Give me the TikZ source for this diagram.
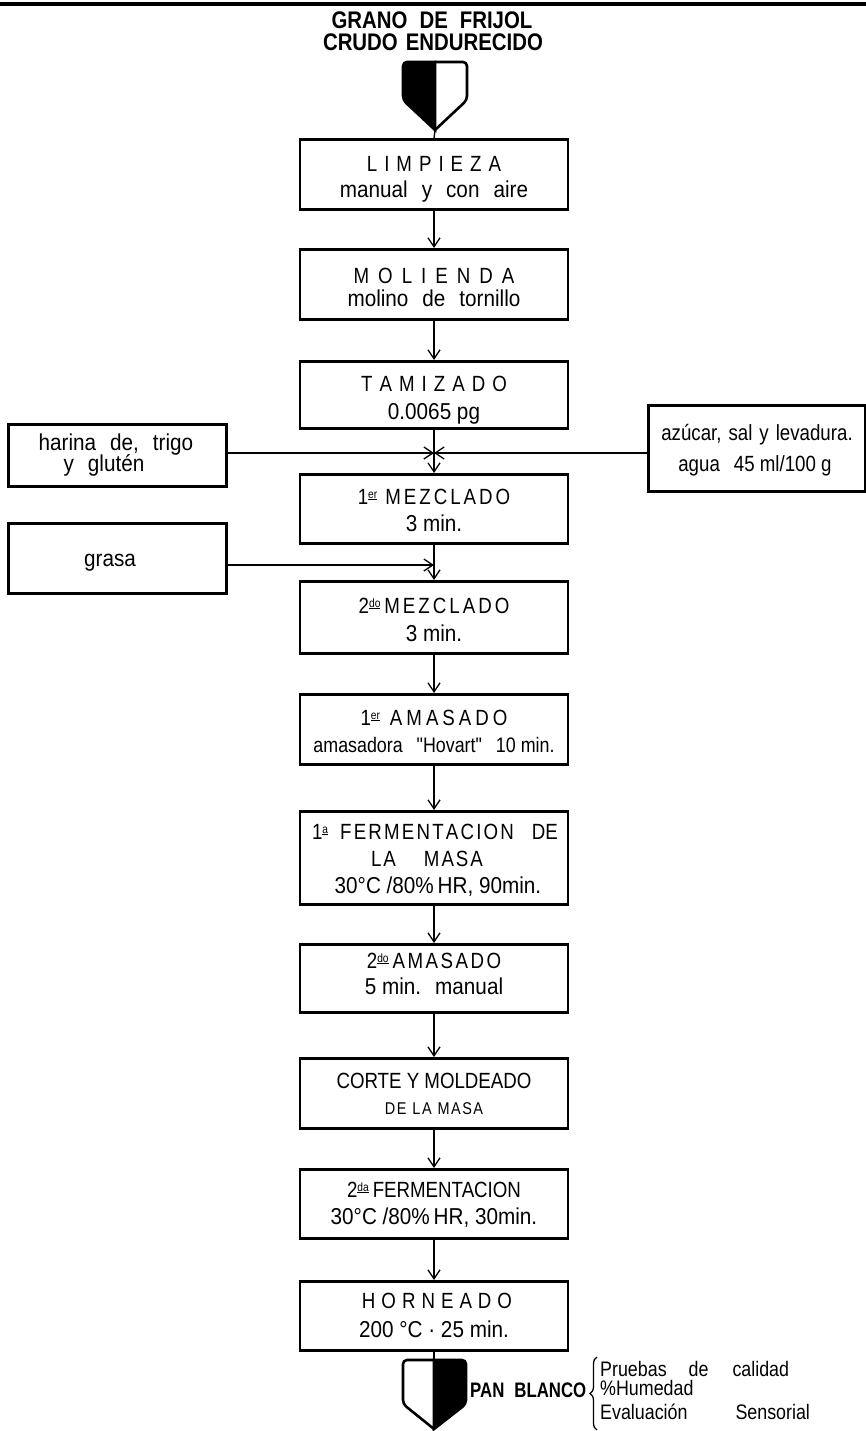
\documentclass[tikz,border=0pt]{standalone}
\usepackage{fontspec}
\setmainfont{Liberation Sans}
\newfontfamily\cf[FakeStretch=0.85]{Liberation Sans}
\newfontfamily\cfw[FakeStretch=0.9]{Liberation Sans}
\newfontfamily\cfn[FakeStretch=0.8]{Liberation Sans}
\usetikzlibrary{arrows.meta,decorations.pathreplacing}
\makeatletter
\newcommand\spaced[2]{\def\sp@k{#1}\let\sp@sep\relax\@tfor\sp@c:=#2\do{\sp@sep\sp@c\def\sp@sep{\kern\sp@k}}}
\makeatother
\newcommand\ord[1]{\raisebox{6pt}{\fontsize{12}{12}\selectfont\underline{#1}}}
\newcommand\w{\hspace{14pt}}
\begin{document}
\begin{tikzpicture}[x=1pt,y=-1pt,
  box/.style={draw, line width=2.8pt, minimum width=268pt, inner sep=0pt, anchor=north},
  sbox/.style={draw, line width=2.8pt, inner sep=0pt, anchor=north west},
  arr/.style={line width=1.3pt, -{Straight Barb[length=9pt,width=12pt]}},
  ln/.style={line width=1.3pt},
  hd/.style={anchor=base, inner sep=0pt, font=\cf\fontsize{22}{22}\selectfont},
  sub/.style={anchor=base, inner sep=0pt, font=\cfw\fontsize{23}{23}\selectfont},
  subs/.style={anchor=base, inner sep=0pt, font=\cf\fontsize{21}{21}\selectfont},
  side/.style={anchor=base, inner sep=0pt, font=\cf\fontsize{22}{22}\selectfont},
  bigt/.style={anchor=base, inner sep=0pt, font=\cf\bfseries\fontsize{24}{24}\selectfont},
  note/.style={anchor=base west, inner sep=0pt, font=\cf\fontsize{21}{21}\selectfont},
]
\useasboundingbox (0,0) rectangle (866,1431);
% top rule
\draw[line width=3.5pt] (0,4) -- (866,4);
% title
\node[bigt] (ttl1) at (432,29) {GRANO\hspace{12pt}DE\hspace{12pt}FRIJOL};
\node[bigt] (ttl2) at (433,51) {CRUDO\hspace{8pt}ENDURECIDO};
% top shield
\coordinate (ts) at (435,130);
\draw[line width=2.6pt] (435,62) [rounded corners=4pt] -- (467,62) -- (467,100) [sharp corners] -- (ts);
\filldraw[line width=2.6pt] (435,62) [rounded corners=4pt] -- (403,62) -- (403,100) [sharp corners] -- (ts) -- cycle;

% main boxes
\node[box, minimum height=70pt] (b1) at (434,138) {};
\node[hd] (b1a) at (434,172) {\spaced{7pt}{LIMPIEZA}};
\node[sub] (b1b) at (434,198) {manual\w y\w con\w aire};

\node[box, minimum height=70pt] (b2) at (434,248) {};
\node[hd] (b2a) at (434,283) {\spaced{9pt}{MOLIENDA}};
\node[sub] (b2b) at (434,306) {molino\w de\w tornillo};

\node[box, minimum height=67pt] (b3) at (434,360) {};
\node[hd] (b3a) at (434,391) {\spaced{7pt}{TAMIZADO}};
\node[sub] (b3b) at (434,419) {0.0065 pg};

\node[box, minimum height=69pt] (b4) at (434,473) {};
\node[hd] (b4a) at (434,504) {1\ord{er}\hspace{8pt}\spaced{3pt}{MEZCLADO}};
\node[sub] (b4b) at (434,531) {3 min.};

\node[box, minimum height=72pt] (b5) at (434,580) {};
\node[hd] (b5a) at (434,613) {2\ord{do}\hspace{4pt}\spaced{3pt}{MEZCLADO}};
\node[sub] (b5b) at (434,641) {3 min.};

\node[box, minimum height=70pt] (b6) at (434,693) {};
\node[hd] (b6a) at (434,725) {1\ord{er}\hspace{10pt}\spaced{4pt}{AMASADO}};
\node[subs] (b6b) at (434,752) {amasadora\w "Hovart"\w 10 min.};

\node[box, minimum height=93pt] (b7) at (434,810) {};
\node[hd] (b7a) at (435,839) {1\ord{a}\hspace{12pt}\spaced{2.2pt}{FERMENTACION}\hspace{18pt}DE};
\node[hd] (b7b) at (427,866) {\spaced{2pt}{LA}\hspace{28pt}\spaced{2pt}{MASA}};
\node[sub] (b7c) at (438,893) {30°C /80\%\,HR, 90min.};

\node[box, minimum height=68pt] (b8) at (434,943) {};
\node[hd] (b8a) at (434,968) {2\ord{do}\hspace{4pt}\spaced{2.5pt}{AMASADO}};
\node[sub] (b8b) at (434,994) {5 min.\w manual};

\node[box, minimum height=70pt] (b9) at (434,1057) {};
\node[hd] (b9a) at (434,1088) {CORTE Y MOLDEADO};
\node[anchor=base, inner sep=0pt, font=\cf\fontsize{17}{17}\selectfont] (b9b) at (434,1114) {\spaced{1.5pt}{DE}\hspace{6pt}\spaced{1.5pt}{LA}\hspace{6pt}\spaced{1.5pt}{MASA}};

\node[box, minimum height=69pt] (b10) at (434,1168) {};
\node[hd] (b10a) at (434,1197) {2\ord{da}\hspace{4pt}FERMENTACION};
\node[sub] (b10b) at (434,1224) {30°C /80\%\,HR, 30min.};

\node[box, minimum height=69pt] (b11) at (434,1280) {};
\node[hd] (b11a) at (437,1308) {\spaced{6pt}{HORNEADO}};
\node[sub] (b11b) at (434,1337) {200 °C · 25 min.};

% side boxes
\node[sbox, minimum width=218pt, minimum height=62pt] (har) at (7,423) {};
\node[sub] (hara) at (116,450) {harina\w de,\w trigo};
\node[sub] (harb) at (104,471) {y\w glutén};

\node[sbox, minimum width=217pt, minimum height=86pt] (azu) at (647,404) {};
\node[side] (azua) at (757,440) {azúcar,\hspace{7pt}sal\hspace{7pt}y\hspace{7pt}levadura.};
\node[side] (azub) at (755,471) {agua\w 45 ml/100 g};

\node[sbox, minimum width=218pt, minimum height=70pt] (gra) at (7,522) {};
\node[sub] (graa) at (110,566) {grasa};

% connectors
\coordinate (j1) at (434,453);
\coordinate (j2) at (434,565);
\draw[ln] (ts) -- (b1.north);
\draw[arr] (b1.south) -- (b2.north);
\draw[arr] (b2.south) -- (b3.north);
\draw[ln] (b3.south) -- (j1);
\draw[arr] (j1) -- (b4.north);
\draw[arr] (har.east |- j1) -- (j1);
\draw[arr] (azu.west |- j1) -- (j1);
\draw[arr] (b4.south) -- (b5.north);
\draw[arr] (gra.east |- j2) -- (j2);
\draw[arr] (b5.south) -- (b6.north);
\draw[arr] (b6.south) -- (b7.north);
\draw[arr] (b7.south) -- (b8.north);
\draw[arr] (b8.south) -- (b9.north);
\draw[arr] (b9.south) -- (b10.north);
\draw[arr] (b10.south) -- (b11.north);

% bottom shield
\coordinate (bs) at (434,1360);
\draw[ln] (b11.south) -- (bs);
\draw[line width=2.6pt] (bs) [rounded corners=4pt] -- (403,1360) -- (403,1404) [sharp corners] -- (434,1429);
\filldraw[line width=2.6pt] (bs) [rounded corners=4pt] -- (466,1360) -- (466,1404) [sharp corners] -- (434,1429) -- cycle;

% output label
\node[anchor=base west, inner sep=0pt, font=\cfn\bfseries\fontsize{21}{21}\selectfont] (pan) at (470,1397) {PAN\hspace{10pt}BLANCO};
\draw[line width=1.3pt, decorate, decoration={brace, amplitude=7pt}] (597,1430) -- (597,1357);
\node[note] (q1) at (600,1376) {Pruebas\hspace{22pt}de\hspace{24pt}calidad};
\node[note] (q2) at (600,1395) {\%Humedad};
\node[note] (q3) at (600,1419) {Evaluación\hspace{48pt}Sensorial};
\end{tikzpicture}
\end{document}
